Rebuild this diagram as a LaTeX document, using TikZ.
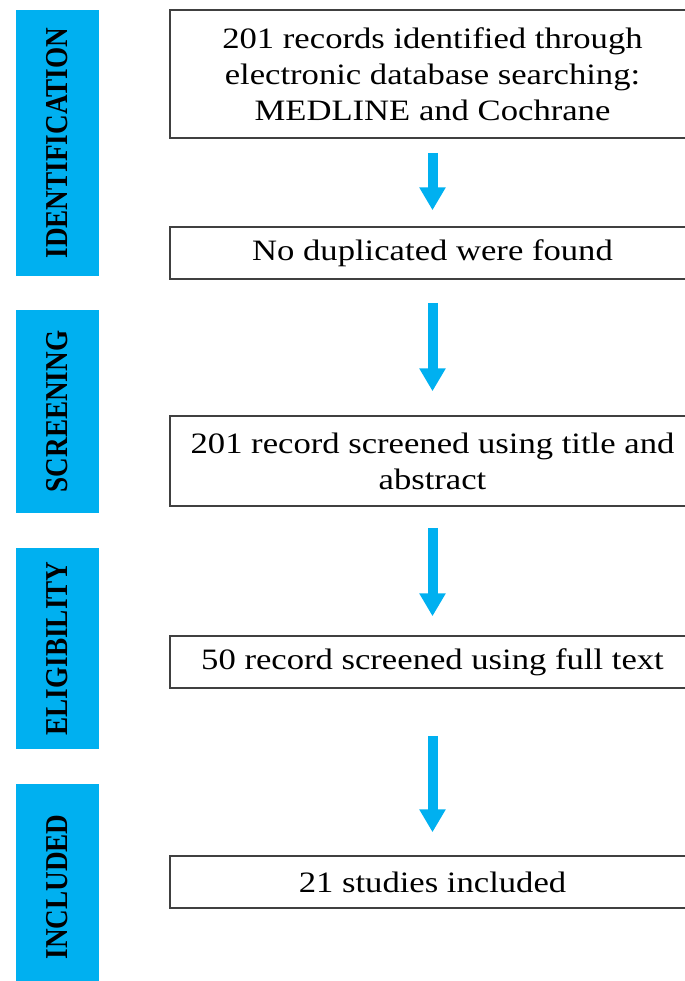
\documentclass[tikz,border=0pt]{standalone}
\usepackage{fontspec}
\usetikzlibrary{arrows.meta}
\newfontfamily\boxfont{Liberation Serif}[FakeStretch=1.17]
\newfontfamily\stagefont{Liberation Serif}
\definecolor{prismablue}{HTML}{00B0F0}

\begin{document}
\begin{tikzpicture}[x=0.5pt, y=-0.5pt,
  stage/.style={fill=prismablue, rotate=90, minimum height=41.5pt, inner sep=0pt,
    font=\stagefont\fontsize{13.6}{16}\selectfont\bfseries},
  record/.style={draw=black!75, line width=0.75pt, minimum width=262.5pt, inner sep=0pt,
    align=center, font=\boxfont\fontsize{14.8}{18}\selectfont},
  flow/.style={prismablue, line width=5pt, -{Triangle[width=12.5pt, length=11.5pt]}}]
  \useasboundingbox (0,0) rectangle (685,981);
  \clip (0,0) rectangle (685,981);

  % Stage bars
  \foreach \y/\h/\name/\txt in {143/133pt/ident/IDENTIFICATION, 411.5/101.5pt/screening/SCREENING,
      648.5/100.5pt/eligible/ELIGIBILITY, 887/103pt/included/INCLUDED} {
    \node[stage, minimum width=\h] (\name) at (57.5,\y) {\scalebox{1}[1.17]{\txt}};
  }

  % Record boxes
  \node[record, minimum height=64pt] (found) at (432.5,74)
    {201 records identified through\\electronic database searching:\\MEDLINE and Cochrane};
  \node[record, minimum height=26pt] (nodup) at (432.5,253) {No duplicated were found};
  \node[record, minimum height=45pt] (screen) at (432.5,461)
    {201 record screened using title and\\abstract};
  \node[record, minimum height=26pt] (full) at (432.5,662) {50 record screened using full text};
  \node[record, minimum height=26pt] (incl) at (432.5,882) {21 studies included};

  % Arrows
  \foreach \a/\b/\s/\e in {found/nodup/7pt/8pt, nodup/screen/11.5pt/12pt,
      screen/full/10.5pt/9.5pt, full/incl/23.5pt/11.5pt} {
    \draw[flow, shorten <=\s, shorten >=\e] (\a) -- (\b);
  }
\end{tikzpicture}
\end{document}
